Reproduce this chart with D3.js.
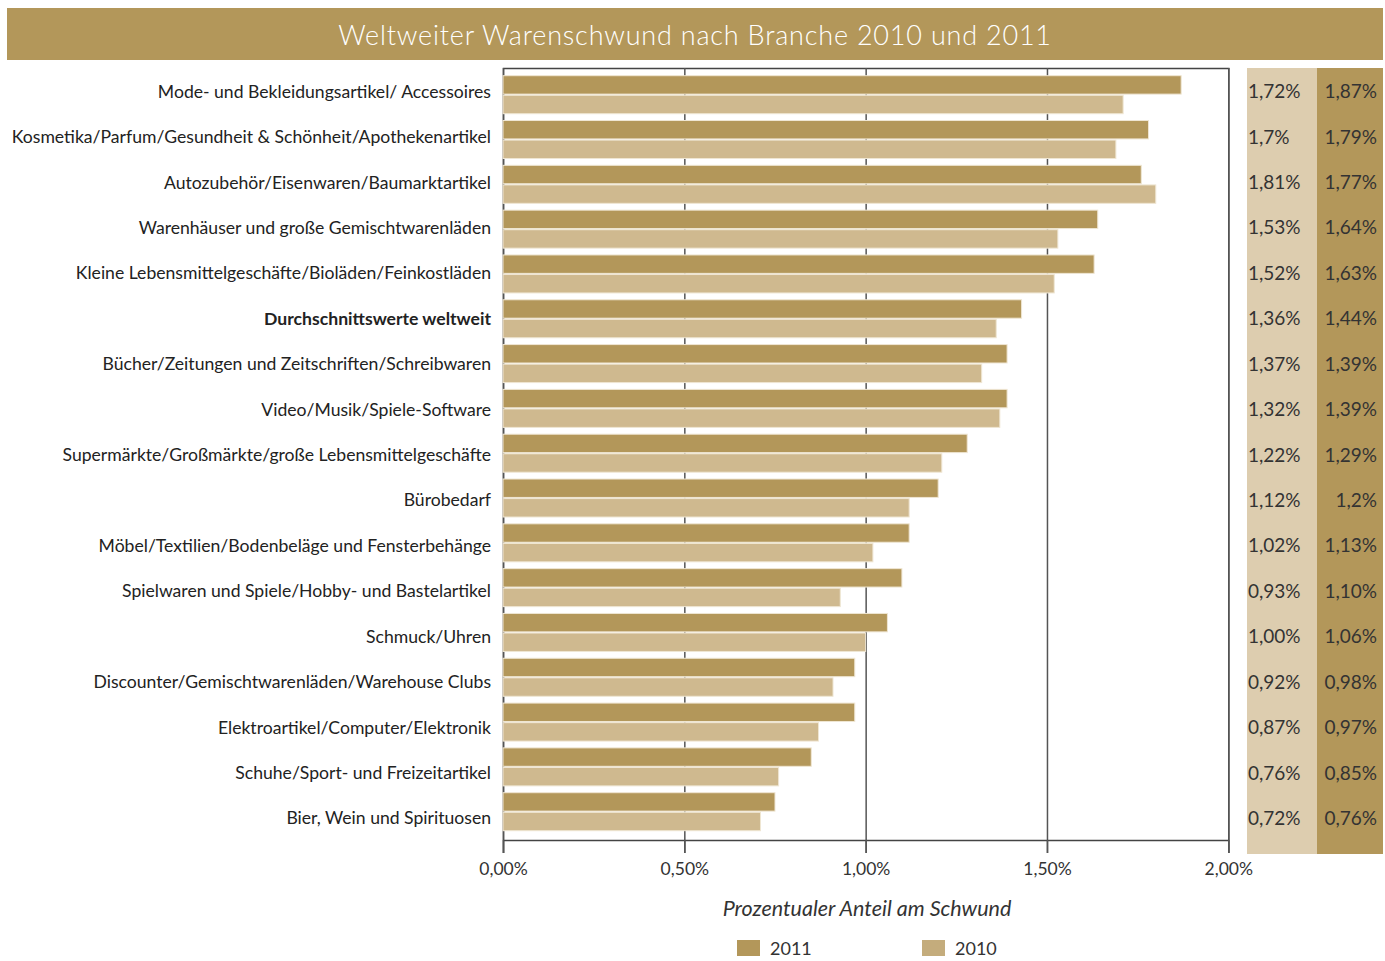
<!DOCTYPE html>
<html>
<head>
<meta charset="utf-8">
<script src="https://cdn.jsdelivr.net/npm/d3@7"></script>
<style>
  body { margin: 0; background: #fff; }
  svg { display: block; font-family: Lato, 'Open Sans', sans-serif; }
</style>
</head>
<body>
<script>
// categories, top to bottom
const categories = [
  'Mode- und Bekleidungsartikel/ Accessoires',
  'Kosmetika/Parfum/Gesundheit & Schönheit/Apothekenartikel',
  'Autozubehör/Eisenwaren/Baumarktartikel',
  'Warenhäuser und große Gemischtwarenläden',
  'Kleine Lebensmittelgeschäfte/Bioläden/Feinkostläden',
  'Durchschnittswerte weltweit',
  'Bücher/Zeitungen und Zeitschriften/Schreibwaren',
  'Video/Musik/Spiele-Software',
  'Supermärkte/Großmärkte/große Lebensmittelgeschäfte',
  'Bürobedarf',
  'Möbel/Textilien/Bodenbeläge und Fensterbehänge',
  'Spielwaren und Spiele/Hobby- und Bastelartikel',
  'Schmuck/Uhren',
  'Discounter/Gemischtwarenläden/Warehouse Clubs',
  'Elektroartikel/Computer/Elektronik',
  'Schuhe/Sport- und Freizeitartikel',
  'Bier, Wein und Spirituosen'
];
const boldCategory = 'Durchschnittswerte weltweit';

// bar lengths in percent
const values2011 = [1.87, 1.78, 1.76, 1.64, 1.63, 1.43, 1.39, 1.39, 1.28, 1.20, 1.12, 1.10, 1.06, 0.97, 0.97, 0.85, 0.75];
const values2010 = [1.71, 1.69, 1.80, 1.53, 1.52, 1.36, 1.32, 1.37, 1.21, 1.12, 1.02, 0.93, 1.00, 0.91, 0.87, 0.76, 0.71];

// printed values in the side table
const labels2010 = ['1,72%', '1,7%', '1,81%', '1,53%', '1,52%', '1,36%', '1,37%', '1,32%', '1,22%', '1,12%', '1,02%', '0,93%', '1,00%', '0,92%', '0,87%', '0,76%', '0,72%'];
const labels2011 = ['1,87%', '1,79%', '1,77%', '1,64%', '1,63%', '1,44%', '1,39%', '1,39%', '1,29%', '1,2%', '1,13%', '1,10%', '1,06%', '0,98%', '0,97%', '0,85%', '0,76%'];

const series = ['2011', '2010'];
const xTicks = [0, 0.5, 1, 1.5, 2];

const title = 'Weltweiter Warenschwund nach Branche 2010 und 2011';
const xTitle = 'Prozentualer Anteil am Schwund';

const dark = '#b3975a';
const light = '#cfb98f';
const lightCol = '#ddcdaf';

const width = 1385, height = 961;
const plot = {left: 503, right: 1228.3, top: 68, bottom: 840};

const rows = categories.map((c, i) => ({name: c, '2011': values2011[i], '2010': values2010[i], l2010: labels2010[i], l2011: labels2011[i]}));

const svg = d3.select('body').append('svg')
  .attr('width', width)
  .attr('height', height);

// title bar
svg.append('rect')
  .attr('x', 7).attr('y', 8)
  .attr('width', 1376).attr('height', 52)
  .attr('fill', dark);
svg.append('text')
  .attr('x', 695).attr('y', 45)
  .attr('text-anchor', 'middle')
  .attr('fill', '#fff')
  .attr('font-size', 27)
  .attr('font-weight', 300)
  .attr('letter-spacing', 0.8)
  .text(title);

// scales
const xScale = d3.scaleLinear().domain([0, 2]).range([plot.left, plot.right]);
const yScale = d3.scaleBand().domain(categories).range([75.7, 830.7]).paddingInner(0.152).paddingOuter(0);
const ySub = d3.scaleBand().domain(series).range([0, yScale.bandwidth()]).paddingInner(0.06);
// text rows sit on a slightly wider pitch than the bars
const yText = d3.scalePoint().domain(categories).range([91.5, 818.3]);

const locale = d3.formatLocale({decimal: ',', thousands: '.', grouping: [3], currency: ['', '€']});
const fmt = locale.format('.2f');

// gridlines + top frame
svg.append('g')
  .attr('transform', `translate(0,${plot.top})`)
  .call(d3.axisTop(xScale).tickValues(xTicks).tickSize(-(853 - plot.top)).tickFormat(''))
  .call(g => g.select('.domain').attr('stroke', '#444').attr('stroke-width', 1.5))
  .call(g => g.selectAll('.tick line').attr('stroke', '#555').attr('stroke-width', 1.5));

// bottom axis
svg.append('g')
  .attr('transform', `translate(0,${plot.bottom})`)
  .call(d3.axisBottom(xScale).tickValues(xTicks).tickSize(13).tickSizeOuter(0).tickPadding(10)
    .tickFormat(d => fmt(d) + '%'))
  .call(g => g.select('.domain').attr('stroke', '#444').attr('stroke-width', 1.5))
  .call(g => g.selectAll('.tick line').attr('stroke', '#555').attr('stroke-width', 1.5))
  .selectAll('text')
  .attr('font-size', 17.5)
  .attr('font-family', 'Lato, sans-serif')
  .attr('fill', '#333');

// bars
const groups = svg.append('g')
  .selectAll('g')
  .data(rows)
  .join('g')
  .attr('transform', d => `translate(0,${yScale(d.name)})`);

groups.selectAll('rect')
  .data(d => series.map(s => ({key: s, value: d[s]})))
  .join('rect')
  .attr('x', xScale(0))
  .attr('y', d => ySub(d.key))
  .attr('width', d => xScale(d.value) - xScale(0))
  .attr('height', ySub.bandwidth())
  .attr('fill', d => d.key == '2011' ? dark : light)
  .attr('stroke', '#efe6d3')
  .attr('stroke-width', 1);

// category labels
svg.append('g')
  .selectAll('text')
  .data(rows)
  .join('text')
  .attr('x', 491)
  .attr('y', d => yText(d.name))
  .attr('dy', '0.35em')
  .attr('text-anchor', 'end')
  .attr('font-size', 17.6)
  .attr('font-weight', d => d.name == boldCategory ? 'bold' : 'normal')
  .attr('fill', '#222')
  .text(d => d.name);

// side table
svg.append('rect')
  .attr('x', 1247).attr('y', plot.top)
  .attr('width', 70).attr('height', 854 - plot.top)
  .attr('fill', lightCol);
svg.append('rect')
  .attr('x', 1317).attr('y', plot.top)
  .attr('width', 66).attr('height', 854 - plot.top)
  .attr('fill', dark);

svg.append('g')
  .selectAll('text')
  .data(rows)
  .join('text')
  .attr('x', 1248)
  .attr('y', d => yText(d.name))
  .attr('dy', '0.35em')
  .attr('font-size', 19)
  .attr('fill', '#333')
  .text(d => d.l2010);

svg.append('g')
  .selectAll('text')
  .data(rows)
  .join('text')
  .attr('x', 1377)
  .attr('y', d => yText(d.name))
  .attr('dy', '0.35em')
  .attr('text-anchor', 'end')
  .attr('font-size', 19)
  .attr('fill', '#333')
  .text(d => d.l2011);

// x axis title
svg.append('text')
  .attr('x', 867).attr('y', 916)
  .attr('text-anchor', 'middle')
  .attr('font-size', 21.5)
  .attr('font-style', 'italic')
  .attr('fill', '#333')
  .text(xTitle);

// legend
const legend = svg.append('g')
  .selectAll('g')
  .data(series)
  .join('g')
  .attr('transform', (d, i) => `translate(${737 + i * 185},940)`);
legend.append('rect')
  .attr('width', 23).attr('height', 16)
  .attr('fill', d => d == '2011' ? dark : '#c4ac7c');
legend.append('text')
  .attr('x', 33).attr('y', 15)
  .attr('font-size', 18)
  .attr('fill', '#333')
  .text(d => d);
</script>
</body>
</html>
